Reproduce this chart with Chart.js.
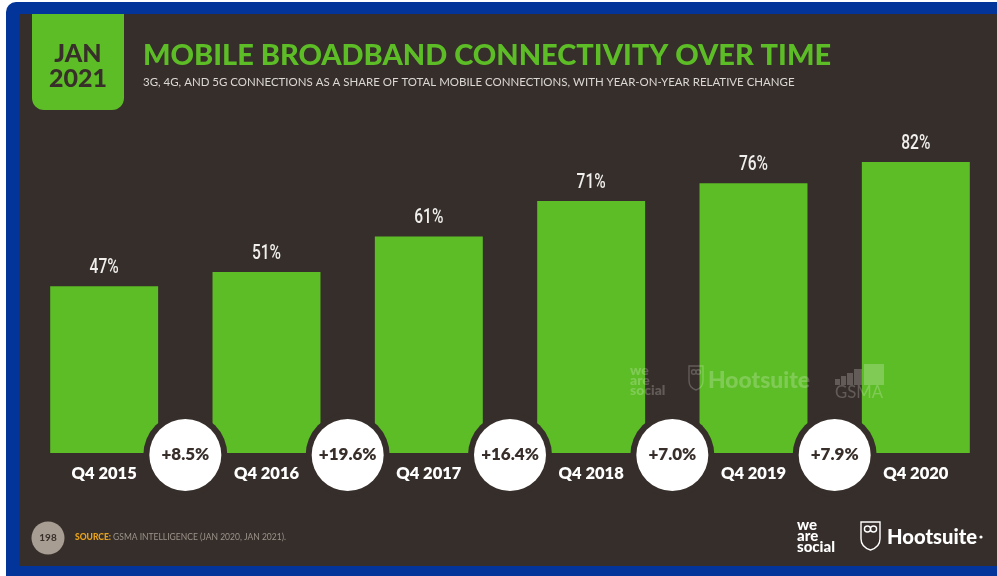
<!DOCTYPE html>
<html>
<head>
<meta charset="utf-8">
<script src="https://cdn.jsdelivr.net/npm/chart.js@4/dist/chart.umd.min.js"></script>
<style>
  html, body { margin: 0; padding: 0; background: #ffffff; }
  #wrap { width: 997px; height: 576px; }
  canvas { display: block; }
</style>
</head>
<body>
<div id="wrap"><canvas id="chart" width="997" height="576"></canvas></div>
<script>
// Mobile broadband (3G/4G/5G) share of total mobile connections
const categories = ['Q4 2015', 'Q4 2016', 'Q4 2017', 'Q4 2018', 'Q4 2019', 'Q4 2020'];
const shares = [47, 51, 61, 71, 76, 82];
// Year-on-year relative change between consecutive quarters (%)
const yoyChange = [8.5, 19.6, 16.4, 7.0, 7.9];

const COLORS = {
  frame: '#02349a',
  panel: '#362e2a',
  green: '#5dbd26',
  dark: '#382f2b',
  label: '#f0efed',
  sub: '#dcd8d4',
  badge: '#a89d93',
  source: '#e8a31a',
  sourceText: '#9c938b'
};

const SANS = 'Lato, "Open Sans", "DejaVu Sans", sans-serif';
const COND = 'Roboto, "Liberation Sans", sans-serif';

function fitText(ctx, text, weight, family, width, x, y) {
  ctx.font = weight + ' 100px ' + family;
  const w = ctx.measureText(text).width;
  const size = 100 * width / w;
  ctx.font = weight + ' ' + size.toFixed(2) + 'px ' + family;
  ctx.fillText(text, x, y);
}

// narrow lettering: draw a normal face squeezed horizontally
function condensedText(ctx, text, x, y, squeeze) {
  ctx.save();
  ctx.translate(x, y);
  ctx.scale(squeeze, 1);
  ctx.fillText(text, 0, 0);
  ctx.restore();
}

function drawOwl(ctx, x, y, w, h, color) {
  ctx.save();
  ctx.strokeStyle = color;
  ctx.lineWidth = 1.4;
  ctx.beginPath();
  ctx.moveTo(x, y);
  ctx.lineTo(x + w, y);
  ctx.lineTo(x + w, y + h * 0.6);
  ctx.quadraticCurveTo(x + w, y + h * 0.9, x + w * 0.5, y + h);
  ctx.quadraticCurveTo(x, y + h * 0.9, x, y + h * 0.6);
  ctx.closePath();
  ctx.stroke();
  ctx.beginPath();
  ctx.arc(x + w * 0.34, y + h * 0.25, w * 0.16, 0, Math.PI * 2);
  ctx.moveTo(x + w * 0.82, y + h * 0.25);
  ctx.arc(x + w * 0.66, y + h * 0.25, w * 0.16, 0, Math.PI * 2);
  ctx.stroke();
  ctx.restore();
}

function drawWeAreSocial(ctx, x, y, size, lineGap, color) {
  ctx.save();
  ctx.fillStyle = color;
  ctx.font = '900 ' + size + 'px ' + SANS;
  ctx.textAlign = 'left';
  ctx.textBaseline = 'alphabetic';
  ['we', 'are', 'social'].forEach((t, i) => ctx.fillText(t, x, y + i * lineGap));
  ctx.restore();
}

const backdrop = {
  id: 'backdrop',
  beforeDraw(chart) {
    const ctx = chart.ctx;
    ctx.save();
    ctx.fillStyle = '#ffffff';
    ctx.fillRect(0, 0, 997, 576);
    ctx.fillStyle = COLORS.frame;
    ctx.beginPath();
    ctx.roundRect(6, 2, 1010, 590, 10);
    ctx.fill();
    ctx.fillStyle = COLORS.panel;
    ctx.fillRect(19, 14, 978, 552);

    // date tab
    ctx.fillStyle = COLORS.green;
    ctx.beginPath();
    ctx.roundRect(32, 14, 92, 96, [0, 0, 12, 12]);
    ctx.fill();
    ctx.fillStyle = COLORS.dark;
    ctx.textAlign = 'center';
    ctx.textBaseline = 'alphabetic';
    ctx.font = '900 25px ' + SANS;
    ctx.fillText('JAN', 78, 62);
    ctx.fillText('2021', 78, 87);

    // title and subtitle
    ctx.textAlign = 'left';
    ctx.fillStyle = COLORS.green;
    fitText(ctx, 'MOBILE BROADBAND CONNECTIVITY OVER TIME', '900', SANS, 688, 143, 65);
    ctx.fillStyle = COLORS.sub;
    fitText(ctx, '3G, 4G, AND 5G CONNECTIONS AS A SHARE OF TOTAL MOBILE CONNECTIONS, WITH YEAR-ON-YEAR RELATIVE CHANGE', '400', SANS, 652, 143, 86);

    // footer: page badge and source
    ctx.fillStyle = COLORS.badge;
    ctx.beginPath();
    ctx.arc(48, 538, 16.5, 0, Math.PI * 2);
    ctx.fill();
    ctx.fillStyle = COLORS.dark;
    ctx.textAlign = 'center';
    ctx.textBaseline = 'middle';
    ctx.font = '700 10px ' + SANS;
    ctx.fillText('198', 48, 538);
    ctx.textAlign = 'left';
    ctx.font = '900 8.5px ' + SANS;
    ctx.fillStyle = COLORS.source;
    ctx.fillText('SOURCE:', 75, 537);
    const sw = ctx.measureText('SOURCE: ').width;
    ctx.fillStyle = COLORS.sourceText;
    ctx.font = '400 8.5px ' + SANS;
    ctx.fillText('GSMA INTELLIGENCE (JAN 2020, JAN 2021).', 75 + sw, 537);

    // brand marks
    drawWeAreSocial(ctx, 797, 530, 15, 11, '#ffffff');
    drawOwl(ctx, 861, 522, 19, 28, '#ffffff');
    ctx.fillStyle = '#ffffff';
    ctx.textBaseline = 'middle';
    fitText(ctx, 'Hootsuite', '900', SANS, 90, 887, 537);
    ctx.beginPath();
    ctx.arc(981, 537, 1.6, 0, Math.PI * 2);
    ctx.fill();
    ctx.restore();
  },
  afterDatasetsDraw(chart) {
    const ctx = chart.ctx;
    const xs = chart.scales.x;
    const ys = chart.scales.y;
    const meta = chart.getDatasetMeta(0);
    const base = ys.getPixelForValue(0);
    ctx.save();

    // faint watermark over the later bars
    const wm = 'rgba(255,255,255,0.22)';
    drawWeAreSocial(ctx, 630, 375, 14, 10, wm);
    drawOwl(ctx, 689, 366, 14, 24, wm);
    ctx.fillStyle = wm;
    ctx.textAlign = 'left';
    ctx.textBaseline = 'middle';
    fitText(ctx, 'Hootsuite', '900', SANS, 102, 708, 381);
    [[835, 379, 5, 6], [841, 376, 5, 9], [847, 373, 6, 12], [854, 369, 8, 16], [864, 364, 20, 21]].forEach(r => {
      ctx.fillRect(r[0], r[1], r[2], r[3]);
    });
    fitText(ctx, 'GSMA', '400', SANS, 48, 835, 393);

    // value labels above bars
    ctx.fillStyle = COLORS.label;
    ctx.textAlign = 'center';
    ctx.textBaseline = 'middle';
    ctx.font = '500 21px ' + COND;
    meta.data.forEach((bar, i) => {
      condensedText(ctx, shares[i] + '%', bar.x, bar.y - 18.5, 0.74);
    });

    // category labels under bars
    ctx.font = '800 16.5px ' + SANS;
    ctx.fillStyle = '#ffffff';
    categories.forEach((c, i) => {
      ctx.fillText(c, xs.getPixelForValue(i), base + 20.5);
    });

    // change bubbles between neighbouring bars
    yoyChange.forEach((v, i) => {
      const cx = (xs.getPixelForValue(i) + xs.getPixelForValue(i + 1)) / 2;
      const cy = base + 2;
      ctx.fillStyle = COLORS.panel;
      ctx.beginPath();
      ctx.arc(cx, cy, 42, 0, Math.PI * 2);
      ctx.fill();
      ctx.fillStyle = '#ffffff';
      ctx.beginPath();
      ctx.arc(cx, cy, 36, 0, Math.PI * 2);
      ctx.fill();
      ctx.fillStyle = COLORS.dark;
      ctx.font = '800 17px ' + SANS;
      ctx.fillText('+' + v.toFixed(1) + '%', cx, cy);
    });
    ctx.restore();
  }
};

new Chart(document.getElementById('chart'), {
  type: 'bar',
  data: {
    labels: categories,
    datasets: [{
      data: shares,
      backgroundColor: COLORS.green,
      borderWidth: 0,
      barPercentage: 0.665,
      categoryPercentage: 1
    }]
  },
  options: {
    responsive: false,
    devicePixelRatio: 1,
    animation: false,
    layout: { padding: { left: 23, right: 0, top: 98, bottom: 123 } },
    plugins: { legend: { display: false }, tooltip: { enabled: false } },
    scales: {
      x: { display: false },
      y: { display: false, min: 0, max: 100 }
    }
  },
  plugins: [backdrop]
});
</script>
</body>
</html>
